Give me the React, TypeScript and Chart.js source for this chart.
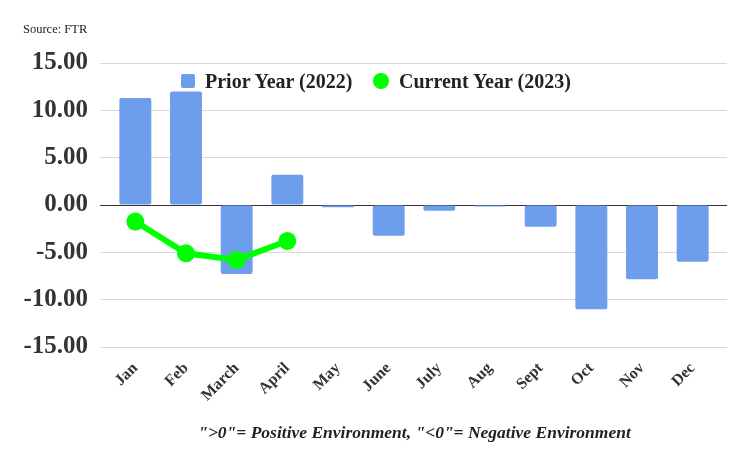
import { useEffect, useRef } from "react";
import { Chart, registerables } from "chart.js";

Chart.register(...registerables);

const months = ["Jan", "Feb", "March", "April", "May", "June", "July", "Aug", "Sept", "Oct", "Nov", "Dec"];
const priorYear = [11.3, 12.0, -7.3, 3.2, -0.25, -3.25, -0.6, -0.15, -2.3, -11.0, -7.85, -6.0];
const currentYear = [-1.75, -5.1, -5.8, -3.8, null, null, null, null, null, null, null, null];
const priorLabel = "Prior Year (2022)";
const currentLabel = "Current Year (2023)";
const sourceText = "Source: FTR";
const footerText = "\">0\"= Positive Environment, \"<0\"= Negative Environment";

const BLUE = "#6d9eeb";
const GREEN = "#00ff00";
const SERIF = "'Liberation Serif', 'Times New Roman', serif";

export default function App() {
  const canvasRef = useRef<HTMLCanvasElement | null>(null);

  useEffect(() => {
    if (!canvasRef.current) return;
    // zero line is dark, the rest light gray
    const gridColor = (ctx: any) => (ctx.tick && ctx.tick.value === 0 ? "#333333" : "#d9d9d9");

    const chart = new Chart(canvasRef.current, {
      type: "bar",
      data: {
        labels: months,
        datasets: [
          {
            type: "line",
            label: currentLabel,
            data: currentYear,
            borderColor: GREEN,
            backgroundColor: GREEN,
            borderWidth: 6,
            pointRadius: 9,
            pointBackgroundColor: GREEN,
            pointBorderWidth: 0,
            order: 0,
          } as any,
          {
            type: "bar",
            label: priorLabel,
            data: priorYear,
            backgroundColor: BLUE,
            borderRadius: 2,
            borderSkipped: false,
            barPercentage: 0.63,
            categoryPercentage: 1,
            order: 1,
          },
        ],
      },
      options: {
        animation: false,
        responsive: true,
        maintainAspectRatio: false,
        layout: { padding: { left: 24, right: 23, top: 63, bottom: 0 } },
        plugins: {
          legend: { display: false },
          tooltip: { enabled: false },
        },
        scales: {
          x: {
            afterFit: (scale: any) => {
              scale.height = 116;
            },
            grid: { display: false },
            border: { display: false },
            ticks: {
              color: "#333333",
              maxRotation: 45,
              minRotation: 45,
              padding: 4,
              font: { family: SERIF, size: 16, weight: "bold" },
            },
          },
          y: {
            min: -15,
            max: 15,
            afterFit: (scale: any) => {
              scale.width = 86;
            },
            border: { display: false },
            grid: { color: gridColor, tickColor: gridColor, tickLength: 10 },
            ticks: {
              stepSize: 5,
              padding: 12,
              color: "#333333",
              font: { family: SERIF, size: 25, weight: "bold" },
              callback: (v: any) => Number(v).toFixed(2),
            },
          },
          y2: {
            position: "right",
            min: -15,
            max: 15,
            afterFit: (scale: any) => {
              scale.width = 9;
            },
            border: { display: false },
            grid: { drawOnChartArea: false, color: gridColor, tickColor: gridColor, tickLength: 9 },
            ticks: { display: false, stepSize: 5 },
          },
        },
      },
    });

    return () => {
      chart.destroy();
    };
  }, []);

  return (
    <div style={{ position: "fixed", left: 0, top: 0, width: 750, height: 463, background: "#fff", fontFamily: SERIF }}>
      <canvas ref={canvasRef} />
      <div style={{ position: "absolute", left: 23, top: 21, fontSize: 12.5, lineHeight: "16px", color: "#222" }}>
        {sourceText}
      </div>
      <div style={{ position: "absolute", left: 181, top: 74, width: 14, height: 14, background: BLUE, borderRadius: 2 }} />
      <div style={{ position: "absolute", left: 205, top: 69, fontSize: 20, fontWeight: "bold", lineHeight: "24px", color: "#222", whiteSpace: "nowrap" }}>
        {priorLabel}
      </div>
      <div style={{ position: "absolute", left: 373, top: 73, width: 16, height: 16, background: GREEN, borderRadius: "50%" }} />
      <div style={{ position: "absolute", left: 399, top: 69, fontSize: 20, fontWeight: "bold", lineHeight: "24px", color: "#222", whiteSpace: "nowrap" }}>
        {currentLabel}
      </div>
      <div
        style={{
          position: "absolute",
          left: 0,
          width: 829,
          top: 420,
          textAlign: "center",
          fontSize: 17.5,
          fontWeight: "bold",
          fontStyle: "italic",
          lineHeight: "24px",
          color: "#222",
          whiteSpace: "nowrap",
        }}
      >
        {footerText}
      </div>
    </div>
  );
}
